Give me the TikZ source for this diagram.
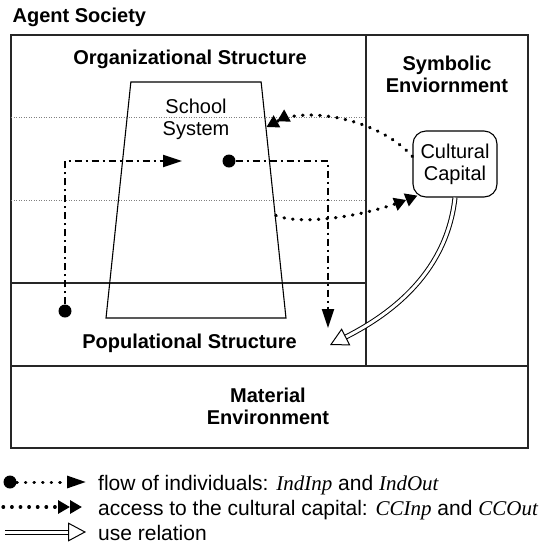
\documentclass[tikz,border=0pt]{standalone}
\usepackage{fontspec}
\setmainfont{Liberation Sans}
\newfontfamily\timesfont{Liberation Serif}
\usetikzlibrary{arrows.meta, shapes.geometric}
\newcommand{\flowvar}[1]{{\timesfont\itshape #1}}

\begin{document}
\begin{tikzpicture}[x=1pt, y=-1pt,
    every node/.style={font=\fontsize{20}{22}\selectfont, inner sep=0pt},
    heading/.style={font=\fontsize{20}{22}\selectfont\bfseries, align=center},
    legtext/.style={anchor=base west, font=\fontsize{21}{23}\selectfont},
    frame/.style={line width=1.3pt, color=black!85},
    guide/.style={dotted, line width=0.5pt, color=gray},
    flow/.style={line width=2.2pt, dash pattern=on 7pt off 4pt on 2pt off 4pt,
                 -{Triangle[length=19pt,width=12pt]}},
    access/.style={line width=3.2pt, line cap=round, dash pattern=on 0.6pt off 8pt,
                   -{Triangle[length=12pt,width=13pt]Triangle[length=12pt,width=13pt]}},
    userel/.style={double, double distance=3pt, line width=1pt,
                   -{Triangle[open,length=18pt,width=19pt,line width=1pt]}},
    blob/.style={circle, fill, minimum size=13pt}
]
\useasboundingbox (0,0) rectangle (545,558);

% society frame and its parts
\draw[frame] (11,35) rectangle (528,448);
\draw[frame] (366,35) -- (366,366);
\draw[frame] (11,366) -- (528,366);
\draw[frame] (11,283) -- (366,283);
\draw[guide] (11,117) -- (366,117);
\draw[guide] (11,200) -- (366,200);

\node[anchor=base west, font=\fontsize{20}{22}\selectfont\bfseries] (society) at (12.5,22) {Agent Society};
\node[heading, anchor=base] (orgstruct) at (190,64) {Organizational Structure};
\node[heading, anchor=base] (popstruct) at (189.5,348) {Populational Structure};
\node[heading, anchor=north] (symenv) at (447,55.7) {Symbolic\\Enviornment};
\node[heading, anchor=north] (matenv) at (268,387.7) {Material\\Environment};

\node[draw, trapezium, trapezium stretches=true, trapezium angle=79.2, inner sep=2pt,
      minimum width=180pt, minimum height=236pt, line width=1.1pt] (school) at (196,200) {};
\node[anchor=north, align=center] (schoolname) at (196,98.7) {School\\System};
\node[draw, rounded corners=13pt, line width=1.1pt, minimum width=84pt, minimum height=66pt,
      align=center] (capital) at (455,164) {Cultural\\Capital};

% individuals in and out of the school system
\node[blob] (indot) at (65,311) {};
\coordinate (inend) at (182,161);
\draw[flow] (indot) |- (inend);
\node[blob] (outdot) at (229,161) {};
\coordinate (outend) at (328,328);
\draw[flow] (outdot) -| (outend);

\draw[access] (capital.170) .. controls (378,118) and (305,106) .. (school.46);
\draw[access] (school.-11) .. controls (300,225) and (360,218) .. ([xshift=5pt,yshift=2pt]capital.south west);

\coordinate (popin) at (330,345);
\draw[userel] (capital.south) .. controls (447,270) and (395,312) .. (popin);

% legend
\node[blob] (legdot) at (10,482) {};
\coordinate (legflowend) at (86,482);
\draw[flow, dash pattern=on 0.6pt off 8pt, line cap=round, line width=3pt] (legdot) -- (legflowend);
\node[legtext] (legflow) at (98,490) {flow of individuals: \flowvar{IndInp} and \flowvar{IndOut}};

\coordinate (legaccstart) at (3,507);
\coordinate (legaccend) at (82,507);
\draw[access] (legaccstart) -- (legaccend);
\node[legtext] (legaccess) at (98,515) {access to the cultural capital: \flowvar{CCInp} and \flowvar{CCOut}};

\coordinate (legusestart) at (5,532);
\coordinate (leguseend) at (86,532);
\draw[userel] (legusestart) -- (leguseend);
\node[legtext] (leguse) at (98,540) {use relation};
\end{tikzpicture}
\end{document}
